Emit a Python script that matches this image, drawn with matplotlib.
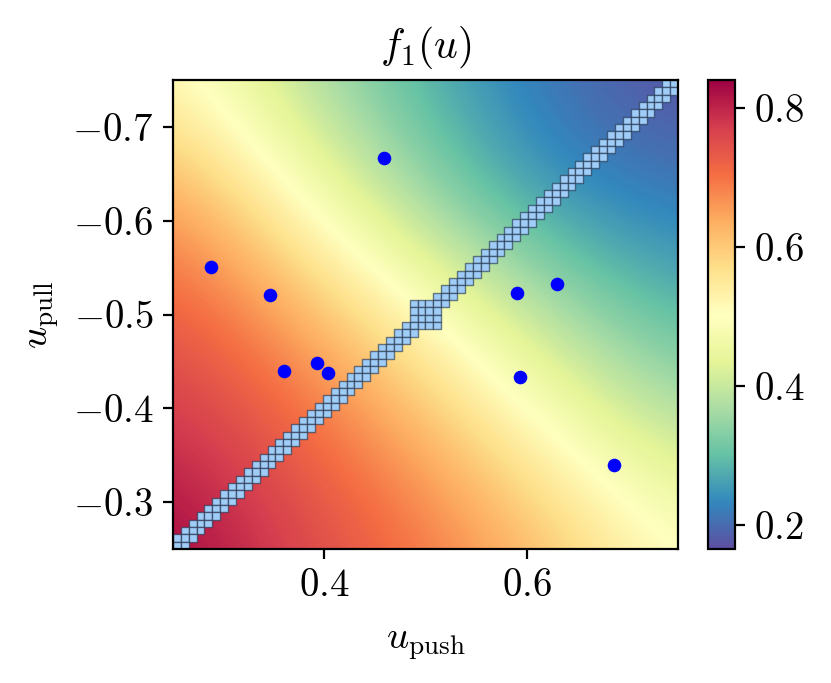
import numpy as np
import matplotlib
matplotlib.use("Agg")
import matplotlib.pyplot as plt
from matplotlib.patches import Rectangle
from matplotlib.collections import PatchCollection
from matplotlib.ticker import FuncFormatter

plt.rcParams["mathtext.fontset"] = "cm"
plt.rcParams["font.family"] = "serif"
plt.rcParams["font.serif"] = ["cmr10", "DejaVu Serif"]
plt.rcParams["axes.formatter.use_mathtext"] = True

# node positions of the read-off field (u_push across, u_pull down from -0.75)
u_push_nodes = [0.25, 0.375, 0.5, 0.625, 0.75]
u_pull_nodes = [-0.75, -0.625, -0.5, -0.375, -0.25]
f1_values = [
    [0.52, 0.375, 0.275, 0.205, 0.165],
    [0.66, 0.50, 0.34, 0.24, 0.215],
    [0.735, 0.64, 0.51, 0.37, 0.28],
    [0.79, 0.72, 0.63, 0.50, 0.385],
    [0.84, 0.765, 0.70, 0.615, 0.50],
]

# sampled points
pts_push = [0.288, 0.346, 0.360, 0.393, 0.404, 0.459, 0.591, 0.594, 0.630, 0.687]
pts_pull = [-0.551, -0.521, -0.440, -0.448, -0.438, -0.667, -0.523, -0.433, -0.532, -0.340]

# constraint band u_push + u_pull = 0 on a grid
grid_n = 64
band_offsets = [-1, 0, 1]
center_block = [30, 31, 32, 33]

x_ticks = [0.4, 0.6]
y_ticks = [-0.7, -0.6, -0.5, -0.4, -0.3]
cbar_ticks = [0.2, 0.4, 0.6, 0.8]


def main():
    fig = plt.figure(figsize=(4.155, 3.415), dpi=200)
    ax = fig.add_axes([0.208, 0.196, 0.608, 0.687])
    cax = fig.add_axes([0.852, 0.196, 0.032, 0.687])

    # half node spacing so node values sit on the node positions
    dx = (u_push_nodes[1] - u_push_nodes[0]) / 2
    dy = (u_pull_nodes[1] - u_pull_nodes[0]) / 2
    img = ax.imshow(
        np.array(f1_values), cmap="Spectral_r", interpolation="bicubic",
        extent=(u_push_nodes[0] - dx, u_push_nodes[-1] + dx,
                u_pull_nodes[-1] + dy, u_pull_nodes[0] - dy),
        origin="upper", aspect="auto",
    )

    # band cells
    h = 0.5 / grid_n
    rects = []
    for i in range(grid_n):
        for j in range(grid_n):
            on_band = (i + j - (grid_n - 1)) in band_offsets
            in_block = i in center_block and j in center_block
            if on_band or in_block:
                rects.append(Rectangle((0.25 + i * h, -0.75 + j * h), h, h))
    ax.add_collection(PatchCollection(
        rects, facecolor="#9fcdf8",
        edgecolor=(0.12, 0.18, 0.28, 0.6), linewidth=0.5, zorder=2,
    ))

    ax.scatter(pts_push, pts_pull, s=24, color="blue", zorder=3, linewidths=0)

    ax.set_xlim(0.25, 0.75)
    ax.set_ylim(-0.25, -0.75)
    ax.set_xticks(x_ticks)
    ax.set_yticks(y_ticks)
    fmt = FuncFormatter(lambda v, _: f"${v:g}$")
    ax.xaxis.set_major_formatter(fmt)
    ax.yaxis.set_major_formatter(fmt)
    ax.tick_params(labelsize=14)
    ax.set_xlabel(r"$u_{\mathrm{push}}$", fontsize=14, labelpad=8)
    ax.set_ylabel(r"$u_{\mathrm{pull}}$", fontsize=14, labelpad=4)
    ax.set_title(r"$f_1(u)$", fontsize=15, pad=8)

    cb = fig.colorbar(img, cax=cax)
    cb.set_ticks(cbar_ticks)
    cb.ax.yaxis.set_major_formatter(fmt)
    cb.ax.tick_params(labelsize=14)
    cb.outline.set_linewidth(0.8)

    plt.savefig("out.png", dpi=200)


if __name__ == "__main__":
    main()
